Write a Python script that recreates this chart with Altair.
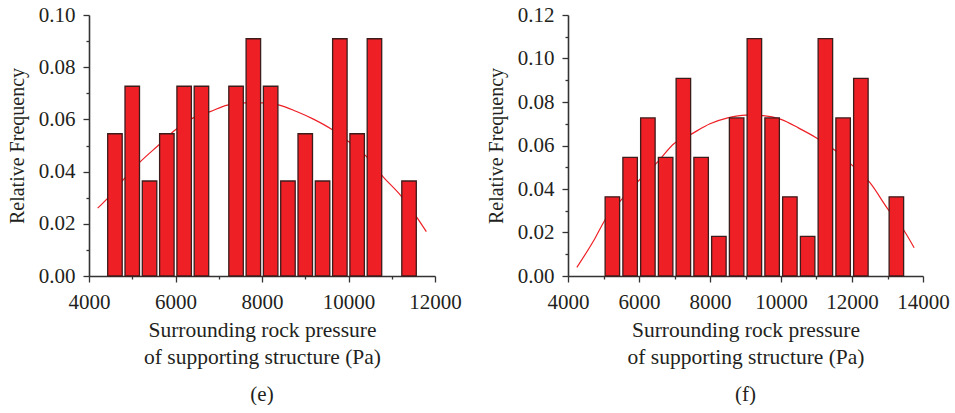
import altair as alt
import pandas as pd

FONT = "Liberation Serif"
RED = "#ee1f25"
EDGE = "#3d1c1c"
INK = "#231f20"
AXIS = "#333333"

# ---------------- panel (e) ----------------
e_bin_centers = [4600, 5000, 5400, 5800, 6200, 6600, 7000, 7400, 7800,
                 8200, 8600, 9000, 9400, 9800, 10200, 10600, 11000, 11400]
e_rel_freq = [0.0545, 0.0727, 0.0364, 0.0545, 0.0727, 0.0727, 0.0, 0.0727, 0.0909,
              0.0727, 0.0364, 0.0545, 0.0364, 0.0909, 0.0545, 0.0909, 0.0, 0.0364]
e_fit_x = [4200, 4500, 4800, 5200, 5600, 6000, 6400, 6800, 7200, 7600, 8000,
           8400, 8800, 9200, 9600, 10000, 10400, 10800, 11200, 11600, 11800]
e_fit_y = [0.026, 0.031, 0.037, 0.044, 0.050, 0.056, 0.0605, 0.063, 0.0655, 0.0663, 0.0663,
           0.0655, 0.063, 0.060, 0.0563, 0.0515, 0.046, 0.038, 0.031, 0.022, 0.017]
e_x_ticks = [4000, 5000, 6000, 7000, 8000, 9000, 10000, 11000, 12000]
e_y_ticks = [0.00, 0.01, 0.02, 0.03, 0.04, 0.05, 0.06, 0.07, 0.08, 0.09, 0.10]

# ---------------- panel (f) ----------------
f_bin_centers = [5250, 5750, 6250, 6750, 7250, 7750, 8250, 8750, 9250,
                 9750, 10250, 10750, 11250, 11750, 12250, 12750, 13250]
f_rel_freq = [0.0364, 0.0545, 0.0727, 0.0545, 0.0909, 0.0545, 0.0182, 0.0727, 0.1091,
              0.0727, 0.0364, 0.0182, 0.1091, 0.0727, 0.0909, 0.0, 0.0364]
f_fit_x = [4250, 4750, 5050, 5500, 6000, 6500, 7000, 7450, 8000, 8500, 9000,
           9500, 10000, 10500, 11000, 11500, 12000, 12500, 13000, 13500, 13750]
f_fit_y = [0.004, 0.017, 0.026, 0.035, 0.044, 0.052, 0.061, 0.065, 0.070, 0.0727, 0.074,
           0.0737, 0.072, 0.068, 0.0635, 0.058, 0.051, 0.043, 0.031, 0.020, 0.013]
f_x_ticks = [4000, 5000, 6000, 7000, 8000, 9000, 10000, 11000, 12000, 13000, 14000]
f_y_ticks = [0.00, 0.01, 0.02, 0.03, 0.04, 0.05, 0.06, 0.07, 0.08, 0.09, 0.10, 0.11, 0.12]

X_TITLE = ["Surrounding rock pressure", "of supporting structure (Pa)"]
Y_TITLE = "Relative Frequency"

X_MAJOR = "datum.value % 2000 === 0"
Y_MAJOR = "round(datum.value * 100) % 2 === 0"


def panel(centers, freqs, fit_x, fit_y, x_ticks, y_ticks, tag, width):
    bars_df = pd.DataFrame({"x": centers, "f": freqs})
    fit_df = pd.DataFrame({"x": fit_x, "f": fit_y})

    xscale = alt.Scale(domain=[x_ticks[0], x_ticks[-1]], nice=False, zero=False, padding=0)
    yscale = alt.Scale(domain=[y_ticks[0], y_ticks[-1]], nice=False)

    xaxis = alt.Axis(
        values=x_ticks,
        title=X_TITLE,
        labelExpr=f"{X_MAJOR} ? format(datum.value, 'd') : ''",
        tickSize={"condition": {"test": X_MAJOR, "value": 6}, "value": 3},
        labelFlush=False,
        labelOverlap=False,
        labelPadding=9,
        titlePadding=7,
        titleLineHeight=27,
    )
    yaxis = alt.Axis(
        values=y_ticks,
        title=Y_TITLE,
        labelExpr=f"{Y_MAJOR} ? format(datum.value, '.2f') : ''",
        tickSize={"condition": {"test": Y_MAJOR, "value": 6}, "value": 3},
        labelFlush=False,
        labelOverlap=False,
        labelPadding=8,
        titlePadding=11,
        titleFontSize=20,
    )

    fit = alt.Chart(fit_df).mark_line(color=RED, strokeWidth=1.2, interpolate="monotone").encode(
        x=alt.X("x:Q", scale=xscale, axis=xaxis),
        y=alt.Y("f:Q", scale=yscale, axis=yaxis),
    )
    bars = alt.Chart(bars_df).transform_filter("datum.f > 0").mark_bar(
        color=RED, stroke=EDGE, strokeWidth=1.3, size=14.5
    ).encode(
        x=alt.X("x:Q", scale=xscale, axis=xaxis),
        y=alt.Y("f:Q", scale=yscale, axis=yaxis),
    )
    return alt.layer(fit, bars).properties(
        width=width,
        height=261,
        title=alt.TitleParams(
            text=tag, orient="bottom", anchor="middle", frame="group",
            font=FONT, fontSize=21, fontWeight="normal", color=INK, offset=16,
        ),
    )


left = panel(e_bin_centers, e_rel_freq, e_fit_x, e_fit_y, e_x_ticks, e_y_ticks, "(e)", 346)
right = panel(f_bin_centers, f_rel_freq, f_fit_x, f_fit_y, f_x_ticks, f_y_ticks, "(f)", 355)

chart = alt.hconcat(left, right, spacing=24).properties(
    padding={"left": 7, "top": 4, "right": 0, "bottom": 0},
    background="white",
).configure_view(stroke=None).configure_axis(
    labelFont=FONT, titleFont=FONT, labelFontSize=21, titleFontSize=21.5,
    labelColor=INK, titleColor=INK, titleFontWeight="normal",
    domainColor=AXIS, domainWidth=1.6, tickColor=AXIS, tickWidth=1.3,
    grid=False,
)

chart.save("out.html", embed_options={"renderer": "svg", "actions": False})
